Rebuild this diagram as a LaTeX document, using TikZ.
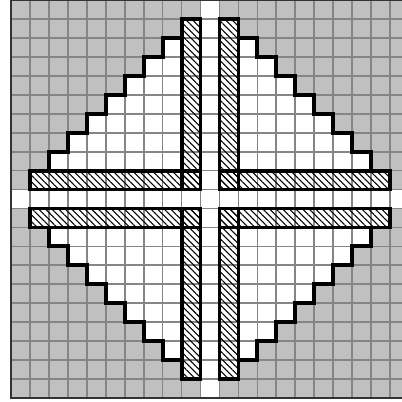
\documentclass[tikz,border=0pt]{standalone}
\usepackage{xcolor}
\usepackage{tikz}
\usetikzlibrary{patterns.meta}
\definecolor{cellgray}{HTML}{C0C0C0}
\definecolor{gridgray}{HTML}{858585}
\definecolor{frame}{HTML}{333333}

\begin{document}
\begin{tikzpicture}[
  x=5mm,y=5mm,
  gridline/.style={draw=gridgray,line width=1.3pt},
  outline/.style={draw=black,line width=2.9pt,line join=miter},
  hatch/.style={pattern={Lines[angle=-45,distance=3.5pt,line width=0.8pt]}},
  border/.style={draw=frame,line width=1.6pt}]
  \useasboundingbox (-11.08,-10.66) rectangle (10.13,10.5);
  \clip (-11.08,-10.66) rectangle (10.13,10.5);
  % gray field and white diamond
  \fill[cellgray] (-10.5,-10.5) rectangle (10.5,10.5);
  \foreach \i in {-10,...,10}
    \fill[white] (\i-0.5,{-10.5+abs(\i)}) rectangle (\i+0.5,{10.5-abs(\i)});
  \foreach \i in {-10.5,-9.5,...,10.5}{
    \draw[gridline] (\i,-10.5) -- (\i,10.5);
    \draw[gridline] (-10.5,\i) -- (10.5,\i);}
  % hatched bars
  \foreach \sx/\sy in {1/1,-1/1,1/-1,-1/-1}{
    \begin{scope}[xscale=\sx,yscale=\sy]
      \fill[hatch] (-1.5,0.5) rectangle (-0.5,9.5);
      \fill[hatch] (-9.5,0.5) rectangle (-0.5,1.5);
    \end{scope}}
  % outlines and stairs
  \foreach \sx/\sy in {1/1,-1/1,1/-1,-1/-1}{
    \begin{scope}[xscale=\sx,yscale=\sy]
      \draw[outline] (-1.5,0.5) rectangle (-0.5,9.5);
      \draw[outline] (-9.5,0.5) rectangle (-0.5,1.5);
      \draw[outline] (-8.5,1.5) foreach \k in {1,...,7}{ |- ++(1,1) };
    \end{scope}}
  \draw[border] (-10.5,-10.5) rectangle (10.5,10.5);
\end{tikzpicture}
\end{document}
